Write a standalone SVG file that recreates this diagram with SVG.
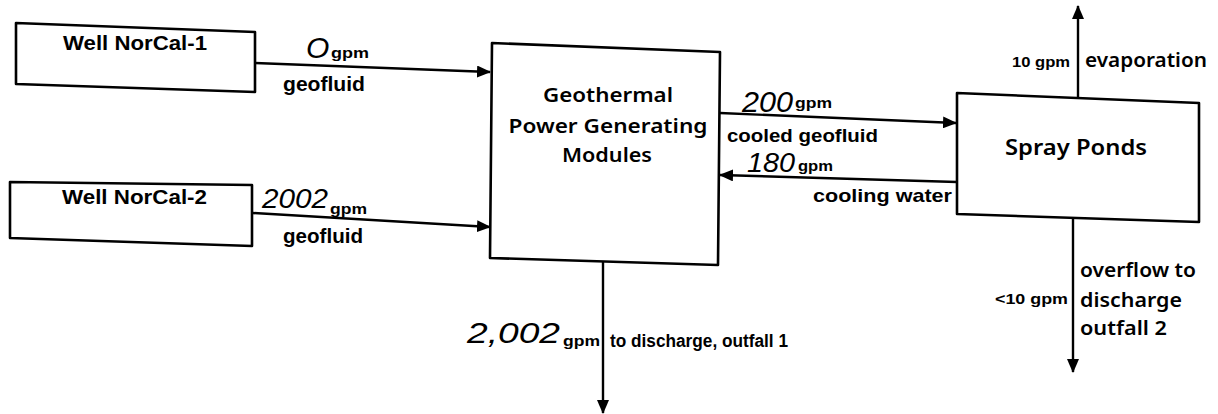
<svg xmlns="http://www.w3.org/2000/svg" width="1218" height="414" viewBox="0 0 1218 414">
<style>
.box{fill:#fff;stroke:#000;stroke-width:2.6;stroke-linejoin:round}
.ln{fill:none;stroke:#000;stroke-width:2.4}
.b{font-family:"Liberation Sans",Arial,sans-serif;font-weight:bold;fill:#000}
.g{font-family:"Noto Sans","Liberation Sans",sans-serif;font-weight:600;fill:#000}
.h{font-family:"Liberation Sans",Arial,sans-serif;font-style:italic;font-weight:normal;fill:#000}
</style>
<defs>
<marker id="ah" markerUnits="userSpaceOnUse" markerWidth="14" markerHeight="12" refX="13" refY="6" orient="auto">
<path d="M0,0 L14,6 L0,12 Z" fill="#000"/>
</marker>
</defs>
<rect width="1218" height="414" fill="#fff"/>
<g id="connectors">
<line class="ln" x1="255" y1="63" x2="490" y2="72" marker-end="url(#ah)"/>
<line class="ln" x1="253" y1="213" x2="490" y2="227" marker-end="url(#ah)"/>
<line class="ln" x1="720" y1="113" x2="956" y2="123" marker-end="url(#ah)"/>
<line class="ln" x1="957" y1="182" x2="720" y2="175" marker-end="url(#ah)"/>
<line class="ln" x1="1078" y1="98" x2="1078" y2="6" marker-end="url(#ah)"/>
<line class="ln" x1="1073" y1="218" x2="1073" y2="372" marker-end="url(#ah)"/>
<line class="ln" x1="603" y1="262" x2="603" y2="413" marker-end="url(#ah)"/>
<text class="h" x="306" y="58" font-size="30">O</text>
<text class="b" x="331" y="58" font-size="14" textLength="38" lengthAdjust="spacingAndGlyphs">gpm</text>
<text class="b" x="283" y="91" font-size="20" textLength="82" lengthAdjust="spacingAndGlyphs">geofluid</text>
<text class="h" x="262" y="208" font-size="28" textLength="66" lengthAdjust="spacingAndGlyphs">2002</text>
<text class="b" x="330" y="214" font-size="14" textLength="37" lengthAdjust="spacingAndGlyphs">gpm</text>
<text class="b" x="283" y="243" font-size="20" textLength="80" lengthAdjust="spacingAndGlyphs">geofluid</text>
<text class="h" x="742" y="112" font-size="30" textLength="51" lengthAdjust="spacingAndGlyphs">200</text>
<text class="b" x="795" y="108" font-size="14" textLength="37" lengthAdjust="spacingAndGlyphs">gpm</text>
<text class="b" x="727" y="142" font-size="19" textLength="151" lengthAdjust="spacingAndGlyphs">cooled geofluid</text>
<text class="h" x="747" y="172" font-size="28" textLength="48" lengthAdjust="spacingAndGlyphs">180</text>
<text class="b" x="798" y="171" font-size="14" textLength="35" lengthAdjust="spacingAndGlyphs">gpm</text>
<text class="b" x="813" y="202" font-size="19" textLength="139" lengthAdjust="spacingAndGlyphs">cooling water</text>
<text class="b" x="1012" y="67" font-size="14" textLength="58" lengthAdjust="spacingAndGlyphs">10 gpm</text>
<text class="g" x="1085" y="67" font-size="19" textLength="122" lengthAdjust="spacingAndGlyphs">evaporation</text>
<text class="b" x="995" y="304" font-size="14" textLength="73" lengthAdjust="spacingAndGlyphs">&lt;10 gpm</text>
<text class="g" x="1080" y="277" font-size="19" textLength="116" lengthAdjust="spacingAndGlyphs">overflow to</text>
<text class="g" x="1080" y="307" font-size="19" textLength="102" lengthAdjust="spacingAndGlyphs">discharge</text>
<text class="g" x="1080" y="335" font-size="19" textLength="87" lengthAdjust="spacingAndGlyphs">outfall 2</text>
<text class="h" x="467" y="343" font-size="30" textLength="93" lengthAdjust="spacingAndGlyphs">2,002</text>
<text class="b" x="563" y="346" font-size="14" textLength="37" lengthAdjust="spacingAndGlyphs">gpm</text>
<text class="b" x="610" y="347" font-size="18" textLength="178" lengthAdjust="spacingAndGlyphs">to discharge, outfall 1</text>
</g>
<g id="well1">
<path class="box" d="M16,23 L255,32 L255,92 L16,84 Z"/>
<text class="b" x="63" y="50" font-size="20" textLength="144" lengthAdjust="spacingAndGlyphs">Well NorCal-1</text>
</g>
<g id="well2">
<path class="box" d="M10,182 L252,185 L252,246 L10,238 Z"/>
<text class="b" x="62" y="204" font-size="20" textLength="145" lengthAdjust="spacingAndGlyphs">Well NorCal-2</text>
</g>
<g id="modules">
<path class="box" d="M492,43 L720,52 L718,265 L490,258 Z"/>
<text class="g" x="608" y="102" font-size="20" text-anchor="middle" textLength="130" lengthAdjust="spacingAndGlyphs">Geothermal</text>
<text class="g" x="608" y="133" font-size="20" text-anchor="middle" textLength="199" lengthAdjust="spacingAndGlyphs">Power Generating</text>
<text class="g" x="607" y="162" font-size="20" text-anchor="middle" textLength="90" lengthAdjust="spacingAndGlyphs">Modules</text>
</g>
<g id="spray">
<path class="box" d="M957,93 L1199,103 L1199,222 L957,214 Z"/>
<text class="g" x="1005" y="155" font-size="21" textLength="142" lengthAdjust="spacingAndGlyphs">Spray Ponds</text>
</g>
</svg>
